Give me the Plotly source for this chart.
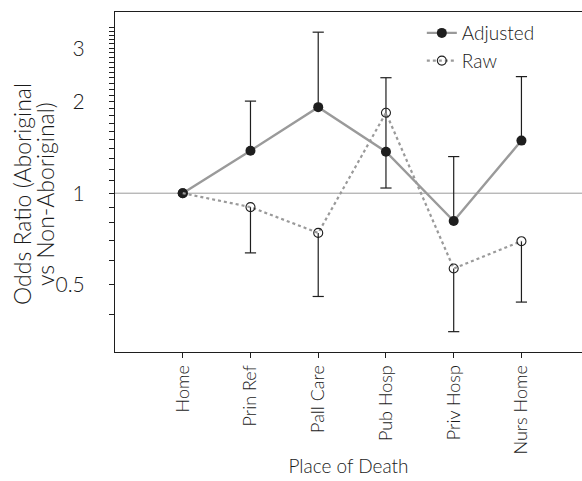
import math
import plotly.graph_objects as go

places = ["Home", "Prin Ref", "Pall Care", "Pub Hosp", "Priv Hosp", "Nurs Home"]
adjusted = [1.0, 1.38, 1.92, 1.37, 0.81, 1.49]
adjusted_upper = [None, 2.01, 3.39, 2.40, 1.32, 2.42]
adjusted_lower = [None, None, None, 1.04, None, None]
raw = [1.0, 0.90, 0.74, 1.84, 0.565, 0.695]
raw_lower = [None, 0.636, 0.457, None, 0.350, 0.438]

y_tick_vals = [round(0.4 + 0.1 * i, 1) for i in range(6)] + [round(1.0 + 0.1 * i, 1) for i in range(26)]
y_labelled = {0.5: "0.5", 1.0: "1", 2.0: "2", 3.0: "3"}
y_tick_text = [y_labelled.get(v, "") for v in y_tick_vals]
y_title_lines = ["Odds Ratio (Aboriginal", "vs Non-Aboriginal)"]
x_title = "Place of Death"

FONT = "Lato"
TXT = "#1a1a1a"
INK = "#1e1e1e"
GREY = "#9a9a9a"

W, H = 582, 481
PL, PR, PT, PB = 115, 582, 12, 352  # plot area in page pixels


def plus(vals, ups):
    return [(u - v) if u is not None else None for v, u in zip(vals, ups)]


def minus(vals, lows):
    return [(v - l) if l is not None else None for v, l in zip(vals, lows)]


fig = go.Figure()

fig.add_hline(y=1, line=dict(color=GREY, width=1), layer="below")

err_common = dict(type="data", symmetric=False, color=INK, thickness=1.2, width=0)

fig.add_trace(go.Scatter(
    x=places, y=adjusted, name="Adjusted", mode="lines+markers",
    line=dict(color=GREY, width=2.4),
    marker=dict(symbol="circle", size=10, color=INK, line=dict(width=0)),
    error_y=dict(array=plus(adjusted, adjusted_upper), arrayminus=minus(adjusted, adjusted_lower), **err_common),
))
fig.add_trace(go.Scatter(
    x=places, y=raw, name="Raw", mode="lines+markers",
    line=dict(color=GREY, width=2.2, dash="dot"),
    marker=dict(symbol="circle-open", size=9, color=INK, line=dict(width=1.1, color=INK)),
    error_y=dict(array=[0 for _ in raw_lower], arrayminus=minus(raw, raw_lower), **err_common),
))

cap_x, cap_y = [], []
for series in (adjusted_upper, adjusted_lower, raw_lower):
    for p, v in zip(places, series):
        if v is not None:
            cap_x.append(p)
            cap_y.append(v)
fig.add_trace(go.Scatter(
    x=cap_x, y=cap_y, mode="markers", showlegend=False, hoverinfo="skip",
    marker=dict(symbol="line-ew-open", size=8, color=INK, line=dict(width=1.2, color=INK)),
))

fig.update_layout(
    width=W, height=H,
    margin=dict(l=PL, r=W - PR, t=PT, b=H - PB, autoexpand=False),
    paper_bgcolor="white", plot_bgcolor="white",
    font=dict(family=FONT, size=19, color=TXT, weight=300),
    showlegend=True,
    legend=dict(x=0.657, y=0.994, xanchor="left", yanchor="top",
                bgcolor="rgba(0,0,0,0)", font=dict(size=19, color=TXT, weight=300)),
    xaxis=dict(
        type="category", range=[-1, 5.894], automargin=False,
        showline=True, linecolor=INK, linewidth=1, mirror=True,
        ticks="outside", ticklen=5, tickcolor=INK, tickangle=-90,
        showgrid=False, zeroline=False,
        title=dict(text=x_title, standoff=6, font=dict(size=19, weight=300)),
        tickfont=dict(size=18, weight=300),
    ),
    yaxis=dict(
        type="log", range=[math.log10(0.3), math.log10(3.95)], automargin=False,
        showline=True, linecolor=INK, linewidth=1,
        ticks="outside", ticklen=5, tickcolor=INK,
        tickvals=y_tick_vals, ticktext=y_tick_text,
        ticklabelstandoff=20,
        showgrid=False, zeroline=False,
        tickfont=dict(size=21, weight=300),
    ),
)

for xpx, line in zip([22, 45], y_title_lines):
    fig.add_annotation(
        text=line, xref="paper", yref="paper",
        x=(xpx - PL) / (PR - PL), y=(PB - 194) / (PB - PT),
        xanchor="center", yanchor="middle", textangle=-90,
        showarrow=False, font=dict(size=23, color=TXT, weight=300),
    )

fig.write_html(
    "out.html",
    config={"displayModeBar": False},
    post_script="document.body.style.margin='0px';document.body.style.overflow='hidden';",
)
